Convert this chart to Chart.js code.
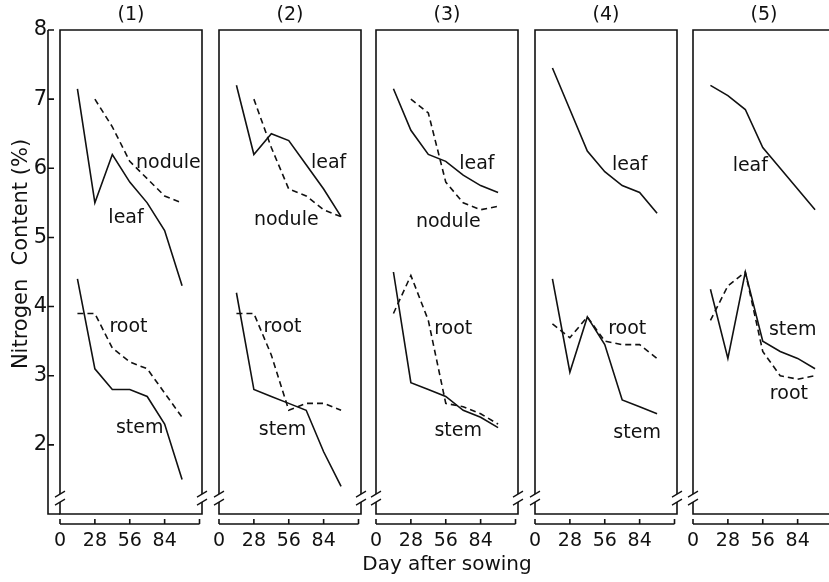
<!DOCTYPE html>
<html>
<head>
<meta charset="utf-8">
<script src="https://cdn.jsdelivr.net/npm/chart.js@4/dist/chart.umd.min.js"></script>
<style>
  html, body { margin: 0; padding: 0; background: #fff; overflow: hidden; }
  #wrap { position: relative; width: 829px; height: 582px; }
  canvas { position: absolute; top: 0; }
</style>
</head>
<body>
<div id="wrap"></div>
<script>
// sampling days (x) and axis ticks
const days = [14, 28, 42, 56, 70, 84, 98];
const xTicks = [0, 28, 56, 84];
const yTicks = [2, 3, 4, 5, 6, 7, 8];
const panelTitles = ["(1)", "(2)", "(3)", "(4)", "(5)"];

// nitrogen content (%) per organ, one set per panel
const leaf1 = [7.15, 5.5, 6.2, 5.8, 5.5, 5.1, 4.3];
const nodule1 = [null, 7.0, 6.6, 6.1, 5.85, 5.6, 5.5];
const root1 = [3.9, 3.9, 3.4, 3.2, 3.1, 2.75, 2.4];
const stem1 = [4.4, 3.1, 2.8, 2.8, 2.7, 2.3, 1.5];

const leaf2 = [7.2, 6.2, 6.5, 6.4, 6.05, 5.7, 5.3];
const nodule2 = [null, 7.0, 6.3, 5.7, 5.6, 5.4, 5.3];
const root2 = [3.9, 3.9, 3.3, 2.5, 2.6, 2.6, 2.5];
const stem2 = [4.2, 2.8, 2.7, 2.6, 2.5, 1.9, 1.4];

const leaf3 = [7.15, 6.55, 6.2, 6.1, 5.9, 5.75, 5.65];
const nodule3 = [null, 7.0, 6.8, 5.8, 5.5, 5.4, 5.45];
const root3 = [3.9, 4.45, 3.8, 2.6, 2.55, 2.45, 2.3];
const stem3 = [4.5, 2.9, 2.8, 2.7, 2.5, 2.4, 2.25];

const leaf4 = [7.45, 6.85, 6.25, 5.95, 5.75, 5.65, 5.35];
const root4 = [3.75, 3.55, 3.85, 3.5, 3.45, 3.45, 3.25];
const stem4 = [4.4, 3.05, 3.85, 3.45, 2.65, 2.55, 2.45];

const leaf5 = [7.2, 7.05, 6.85, 6.3, 6.0, 5.7, 5.4];
const root5 = [3.8, 4.3, 4.5, 3.35, 3.0, 2.95, 3.0];
const stem5 = [4.25, 3.25, 4.5, 3.5, 3.35, 3.25, 3.1];

Chart.defaults.font.family = '"DejaVu Sans", sans-serif';
Chart.defaults.color = "#111";
Chart.defaults.animation = false;

const INK = "#111";

// curve name tags, placed at (day, %) in each panel
const tags = [
  [["nodule", 87, 6.08], ["leaf", 53, 5.28], ["root", 55, 3.7], ["stem", 64, 2.24]],
  [["leaf", 88, 6.08], ["nodule", 54, 5.25], ["root", 51, 3.7], ["stem", 51, 2.21]],
  [["leaf", 81, 6.06], ["nodule", 58, 5.22], ["root", 62, 3.68], ["stem", 66, 2.2]],
  [["leaf", 76, 6.05], ["root", 74, 3.68], ["stem", 82, 2.17]],
  [["leaf", 46, 6.03], ["stem", 80, 3.66], ["root", 77, 2.74]],
];

const panels = [
  { left: 60, series: [[leaf1, false], [nodule1, true], [root1, true], [stem1, false]] },
  { left: 219, series: [[leaf2, false], [nodule2, true], [root2, true], [stem2, false]] },
  { left: 376, series: [[leaf3, false], [nodule3, true], [root3, true], [stem3, false]] },
  { left: 535, series: [[leaf4, false], [root4, true], [stem4, false]] },
  { left: 693, series: [[leaf5, false], [root5, true], [stem5, false]] },
];

// box with axis breaks, detached x axis, titles and curve tags
const frame = {
  id: "frame",
  afterDatasetsDraw(chart, args, opts) {
    const { ctx, chartArea: a } = chart;
    const x = chart.scales.x, y = chart.scales.y;
    const top = y.getPixelForValue(8), bot = y.getPixelForValue(1);
    const brk = y.getPixelForValue(1.23);
    const L = a.left, R = a.right;
    ctx.save();
    ctx.strokeStyle = INK;
    ctx.fillStyle = INK;
    ctx.lineWidth = 1.6;
    ctx.setLineDash([]);
    ctx.beginPath();
    ctx.moveTo(L, brk - 4); ctx.lineTo(L, top); ctx.lineTo(R, top); ctx.lineTo(R, brk - 4);
    ctx.moveTo(L, brk + 4); ctx.lineTo(L, bot); ctx.lineTo(R, bot); ctx.lineTo(R, brk + 4);
    ctx.stroke();
    ctx.lineWidth = 1.3;
    [L, R].forEach((px) => {
      [-4, 4].forEach((d) => {
        ctx.beginPath();
        ctx.moveTo(px - 5, brk + d + 3);
        ctx.lineTo(px + 5, brk + d - 3);
        ctx.stroke();
      });
    });
    // x axis drawn a little below the box
    ctx.lineWidth = 1.6;
    const ay = bot + 10;
    ctx.beginPath();
    ctx.moveTo(x.getPixelForValue(0), ay);
    ctx.lineTo(x.getPixelForValue(112), ay);
    xTicks.concat([112]).forEach((v) => {
      const px = x.getPixelForValue(v);
      ctx.moveTo(px, ay);
      ctx.lineTo(px, ay - 5);
    });
    ctx.stroke();
    // outer y axis (first panel only)
    if (opts.outer) {
      const ox = L - 12;
      ctx.beginPath();
      ctx.moveTo(ox, top);
      ctx.lineTo(ox, bot);
      ctx.lineTo(L, bot);
      yTicks.forEach((v) => {
        const py = y.getPixelForValue(v);
        ctx.moveTo(ox, py);
        ctx.lineTo(ox + 6, py);
      });
      ctx.stroke();
      ctx.save();
      ctx.translate(22, 254);
      ctx.rotate(-Math.PI / 2);
      ctx.font = '21px "DejaVu Sans"';
      ctx.textAlign = "center";
      ctx.textBaseline = "middle";
      ctx.fillText("Nitrogen  Content (%)", 0, 0);
      ctx.restore();
    }
    ctx.font = '19px "DejaVu Sans"';
    ctx.textAlign = "center";
    ctx.textBaseline = "middle";
    ctx.fillText(opts.title, (L + R) / 2, 15);
    opts.tags.forEach(([t, d, v]) => {
      ctx.fillText(t, x.getPixelForValue(d), y.getPixelForValue(v));
    });
    if (opts.xlabel) {
      ctx.font = '20px "DejaVu Sans"';
      ctx.fillText(opts.xlabel, (L + R) / 2, 565);
    }
    ctx.restore();
  },
};

const wrap = document.getElementById("wrap");
const plotW = 142;

panels.forEach((p, i) => {
  const first = i === 0;
  const padL = first ? 0 : (i === 2 ? 40 : 15);
  const padR = i === 2 ? 40 : 15;
  const yW = first ? 60 : 0;
  const cv = document.createElement("canvas");
  cv.width = padL + yW + plotW + padR;
  cv.height = 582;
  cv.style.left = (p.left - yW - padL) + "px";
  wrap.appendChild(cv);

  new Chart(cv.getContext("2d"), {
    type: "line",
    data: {
      labels: days,
      datasets: p.series.map(([vals, dashed]) => ({
        data: days.map((d, k) => ({ x: d, y: vals[k] })),
        borderColor: INK,
        borderWidth: 1.6,
        borderDash: dashed ? [6, 4] : [],
        pointRadius: 0,
        tension: 0,
        spanGaps: false,
      })),
    },
    options: {
      responsive: false,
      devicePixelRatio: 1,
      layout: { padding: { top: 30, left: padL, right: padR, bottom: 0 } },
      plugins: {
        legend: { display: false },
        tooltip: { enabled: false },
        frame: {
          title: panelTitles[i],
          tags: tags[i],
          outer: first,
          xlabel: i === 2 ? "Day after sowing" : null,
        },
      },
      scales: {
        x: {
          type: "linear",
          min: 0,
          max: 114,
          grid: { display: false },
          border: { display: false },
          afterBuildTicks: (s) => { s.ticks = xTicks.map((v) => ({ value: v })); },
          afterFit: (s) => { s.height = 68; },
          ticks: { autoSkip: false, maxRotation: 0, padding: 8, font: { size: 19 }, color: INK },
        },
        y: {
          display: first,
          min: 1,
          max: 8,
          grid: { display: false },
          border: { display: false },
          afterBuildTicks: (s) => { s.ticks = yTicks.map((v) => ({ value: v })); },
          afterFit: (s) => { if (first) s.width = 60; },
          ticks: { padding: 5, font: { size: 21 }, color: INK },
        },
      },
    },
    plugins: [frame],
  });
});
</script>
</body>
</html>
